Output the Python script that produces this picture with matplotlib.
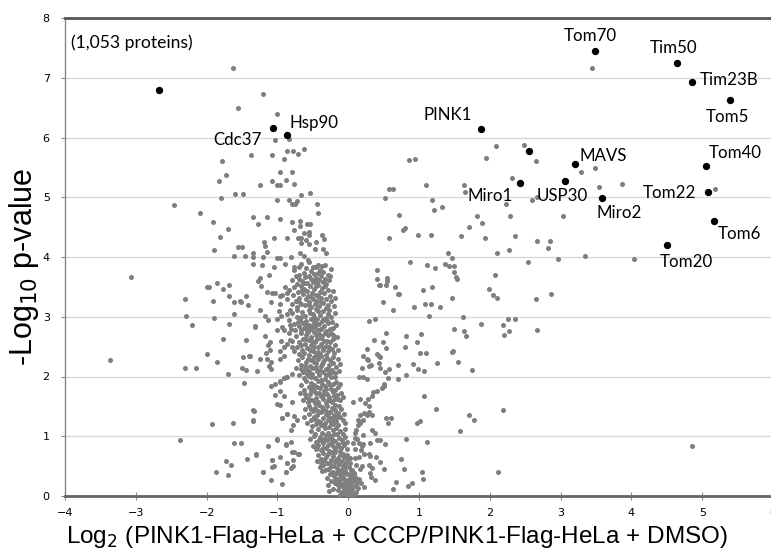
import matplotlib
matplotlib.use("Agg")
import matplotlib.pyplot as plt

# grey proteins, upper part of plot
upper_x = [-1.63, -1.20, -1.56, -1.00, -1.03, -0.84, -1.37, -1.07, -0.87, -0.78, -0.71, -0.62, -1.78, -0.91,
           -1.72, -0.96, -0.79, -1.82, -1.07, -0.88, -0.76, -1.25, -1.00, -0.97, -1.60, -1.49, -1.80, -0.66,
           -0.54, -1.00, -0.83, -0.72, -0.79, -0.75, -0.44, -2.46, -2.09, -0.42, -1.35, -1.15, -0.97, -1.91,
           -1.27, -0.80, -0.68, -0.58, -0.54, -0.68, -0.76, -1.70, -1.81, -1.05, -0.87, -0.71, -0.67, -0.56,
           -0.37, -0.34, -0.66, -0.56, -1.19, -1.17, -1.56, -1.50, -1.90, -1.34, -1.61, -1.46, -1.34, -1.20,
           -1.01, -0.96, -0.81, -0.68, -0.63, -0.47, -0.35, -0.31, -1.34, -1.22, -0.89, -1.05, -0.77, -0.70,
           -0.50, -0.45, -0.37, -0.33, -0.26, -3.07, -1.15, -1.12, -1.25, -1.28, -0.55, -0.62, -0.60, -0.45]
upper_y = [7.16, 6.72, 6.50, 6.39, 5.95, 5.97, 5.71, 5.70, 5.77, 5.78, 5.72, 5.80, 5.61, 5.64,
           5.37, 5.42, 5.42, 5.28, 5.28, 5.29, 5.22, 5.20, 5.20, 5.21, 5.05, 5.05, 4.98, 5.04,
           5.07, 4.95, 4.95, 4.94, 4.89, 4.88, 4.89, 4.87, 4.73, 4.74, 4.67, 4.67, 4.64, 4.59,
           4.56, 4.59, 4.60, 4.56, 4.55, 4.52, 4.45, 4.47, 4.33, 4.31, 4.31, 4.31, 4.32, 4.36,
           4.36, 4.30, 4.24, 4.22, 4.25, 4.18, 4.17, 4.16, 4.12, 4.06, 4.01, 4.02, 4.00, 4.00,
           3.98, 3.98, 4.00, 4.06, 4.01, 4.13, 4.13, 4.06, 3.88, 3.86, 3.89, 3.83, 3.83, 3.83,
           3.83, 3.84, 3.85, 3.86, 3.68, 3.67, 4.09, 3.70, 3.65, 3.59, 4.42, 4.40, 4.28, 4.25]

# grey proteins, left side below ~3.7
left_x = [-3.36, -2.38, -2.30, -2.29, -2.20, -2.31, -2.15, -1.99, -1.96, -1.85, -1.77, -1.69, -1.91, -1.90,
          -1.69, -1.99, -1.86, -1.77, -1.70, -1.68, -1.62, -1.62, -1.53, -1.52, -1.45, -1.42, -1.45, -1.39,
          -1.50, -1.45, -1.47, -1.31, -1.29, -1.34, -1.34, -1.92, -1.63, -1.61, -1.51, -1.30, -1.73, -1.65,
          -1.43, -1.87, -1.70, -1.20, -1.09, -1.05, -1.08, -1.01, -0.97, -0.88, -0.88, -0.86, -0.79, -0.78,
          -0.71, -0.81, -0.81, -0.90, -0.87, -0.80, -0.76, -0.78, -0.73, -1.03, -0.97, -1.01, -0.97, -0.93,
          -0.80, -0.88, -0.96, -1.03, -1.09, -1.09, -1.15, -1.24,
          -1.14, -1.08, -1.09, -1.03, -0.97, -0.94, -0.96, -0.89, -0.86, -1.17, -1.13, -0.98, -0.95, -1.00,
          -0.87, -0.82, -1.32, -1.18, -1.10, -1.13, -1.01, -0.94, -0.90, -0.84, -0.82, -1.16, -1.10, -0.95,
          -0.91, -0.96, -0.87, -0.82, -0.80, -1.12, -1.09, -0.96, -0.91, -0.96, -0.91, -0.87, -1.33, -1.35,
          -0.94, -0.87, -0.81, -1.01, -0.88, -1.13, -1.30, -1.07, -0.77, -0.70, -0.86, -0.78, -0.88, -1.20,
          -1.08, -0.94, -1.40, -1.48, -1.23, -1.24]
left_y = [2.28, 0.94, 3.29, 3.02, 2.87, 2.15, 2.15, 3.49, 3.50, 3.56, 3.46, 3.53, 3.26, 2.98,
          2.88, 2.38, 2.24, 2.63, 2.05, 3.35, 3.24, 3.05, 3.27, 3.24, 3.34, 3.19, 2.61, 2.35,
          2.15, 2.11, 1.89, 2.85, 2.10, 1.44, 1.26, 1.21, 1.23, 0.88, 0.89, 0.69, 0.59, 0.52,
          0.62, 0.40, 0.35, 0.41, 0.27, 0.50, 0.61, 0.94, 0.66, 0.85, 0.41, 0.56, 0.73, 0.61,
          0.70, 0.47, 0.91, 1.67, 1.38, 1.57, 1.34, 1.19, 1.28, 1.69, 1.76, 1.54, 1.52, 1.31,
          2.04, 1.99, 1.92, 1.88, 1.84, 2.12, 2.29, 2.29,
          3.42, 3.39, 3.24, 3.39, 3.34, 3.36, 3.22, 3.49, 3.40, 3.02, 2.95, 3.09, 3.01, 2.97,
          3.04, 3.11, 2.83, 2.68, 2.58, 2.52, 2.77, 2.83, 2.78, 2.72, 2.86, 2.40, 2.44, 2.60,
          2.49, 2.42, 2.54, 2.61, 2.50, 2.18, 2.24, 2.30, 2.35, 1.91, 1.98, 2.00, 1.42, 1.27,
          1.30, 1.38, 1.10, 0.95, 0.87, 0.83, 0.70, 0.61, 0.73, 0.70, 0.56, 0.50, 0.41, 0.41,
          0.48, 0.20, 2.35, 2.32, 3.52, 3.12]

# grey proteins, dense central cloud
core_x = [-0.80, -0.76, -0.72, -0.70, -0.67, -0.65, -0.63, -0.61, -0.59, -0.58, -0.56, -0.55, -0.53, -0.52,
          -0.50, -0.49, -0.47, -0.46, -0.44, -0.43, -0.41, -0.40, -0.38, -0.36, -0.35, -0.33, -0.31, -0.29,
          -0.27, -0.57, -0.69, -0.74, -0.62, -0.48, -0.42, -0.25,
          -0.86, -0.83, -0.80, -0.78, -0.76, -0.74, -0.72, -0.71, -0.69, -0.67, -0.66, -0.64, -0.63, -0.61,
          -0.60, -0.58, -0.57, -0.55, -0.54, -0.52, -0.51, -0.50, -0.48, -0.47, -0.45, -0.44, -0.42, -0.41,
          -0.40, -0.38, -0.37, -0.35, -0.34, -0.32, -0.31, -0.29, -0.28, -0.26, -0.24, -0.22, -0.20, -0.19,
          -0.65, -0.56, -0.46, -0.39, -0.53, -0.43, -0.70, -0.33,
          -0.84, -0.81, -0.79, -0.77, -0.75, -0.73, -0.72, -0.70, -0.68, -0.67, -0.65, -0.64, -0.62, -0.61,
          -0.59, -0.58, -0.56, -0.55, -0.53, -0.52, -0.50, -0.49, -0.47, -0.46, -0.44, -0.43, -0.41, -0.40,
          -0.38, -0.37, -0.35, -0.34, -0.32, -0.31, -0.29, -0.28, -0.26, -0.25, -0.23, -0.21, -0.19, -0.17,
          -0.60, -0.48, -0.36, -0.54, -0.42, -0.30, -0.66, -0.57, -0.45, -0.39, -0.27, -0.71, -0.51,
          -0.79, -0.77, -0.74, -0.72, -0.70, -0.69, -0.67, -0.65, -0.64, -0.62, -0.61, -0.59, -0.58, -0.56,
          -0.55, -0.53, -0.52, -0.50, -0.49, -0.47, -0.46, -0.44, -0.43, -0.41, -0.40, -0.38, -0.37, -0.35,
          -0.34, -0.32, -0.31, -0.29, -0.28, -0.26, -0.25, -0.23, -0.22, -0.20, -0.18, -0.16, -0.14, -0.60,
          -0.48, -0.39, -0.30, -0.54, -0.45, -0.36, -0.66, -0.57, -0.27, -0.42, -0.51, -0.33, -0.21,
          -0.74, -0.71, -0.69, -0.67, -0.65, -0.64, -0.62, -0.60, -0.59, -0.57, -0.56, -0.54, -0.53, -0.51,
          -0.50, -0.48, -0.47, -0.45, -0.44, -0.42, -0.41, -0.39, -0.38, -0.36, -0.35, -0.33, -0.32, -0.30,
          -0.29, -0.27, -0.26, -0.24, -0.23, -0.21, -0.19, -0.17, -0.15, -0.13, -0.11, -0.55, -0.46, -0.37,
          -0.28, -0.61, -0.49, -0.40, -0.31, -0.22, -0.52, -0.43, -0.34, -0.25, -0.58, -0.18, -0.66,
          -0.68, -0.66, -0.64, -0.62, -0.60, -0.59, -0.57, -0.55, -0.54, -0.52, -0.51, -0.49, -0.48, -0.46,
          -0.45, -0.43, -0.42, -0.40, -0.39, -0.37, -0.36, -0.34, -0.33, -0.31, -0.30, -0.28, -0.27, -0.25,
          -0.24, -0.22, -0.21, -0.19, -0.18, -0.16, -0.14, -0.12, -0.10, -0.08, -0.53, -0.44, -0.35, -0.26,
          -0.17, -0.47, -0.38, -0.29, -0.20, -0.56, -0.41, -0.32, -0.23, -0.15, -0.61, -0.50, -0.11,
          -0.63, -0.61, -0.58, -0.56, -0.55, -0.53, -0.51, -0.50, -0.48, -0.47, -0.45, -0.44, -0.42, -0.41,
          -0.39, -0.38, -0.36, -0.35, -0.33, -0.32, -0.30, -0.29, -0.27, -0.26, -0.24, -0.23, -0.21, -0.20,
          -0.18, -0.17, -0.15, -0.14, -0.12, -0.10, -0.08, -0.06, -0.04, -0.46, -0.37, -0.28, -0.19, -0.40,
          -0.31, -0.22, -0.13, -0.52, -0.34, -0.25, -0.16, -0.43,
          -0.54, -0.52, -0.50, -0.48, -0.46, -0.45, -0.43, -0.42, -0.40, -0.39, -0.37, -0.36, -0.34, -0.33,
          -0.31, -0.30, -0.28, -0.27, -0.25, -0.24, -0.22, -0.21, -0.19, -0.18, -0.16, -0.15, -0.13, -0.12,
          -0.10, -0.09, -0.07, -0.06, -0.04, -0.02, -0.01, -0.41, -0.32, -0.23, -0.14, -0.35, -0.26, -0.17,
          -0.08, -0.29, -0.20, -0.11, -0.47, -0.38, -0.05, -0.44,
          -0.44, -0.42, -0.40, -0.38, -0.36, -0.35, -0.33, -0.31, -0.30, -0.28, -0.27, -0.25, -0.24, -0.22,
          -0.21, -0.19, -0.18, -0.16, -0.15, -0.13, -0.12, -0.10, -0.09, -0.07, -0.06, -0.04, -0.03, -0.01,
          0.01, 0.03, 0.04, -0.34, -0.26, -0.17, -0.08, -0.29, -0.20, -0.11, -0.02, -0.37, -0.23, -0.14,
          -0.05, 0.02, -0.39,
          -0.30, -0.28, -0.26, -0.24, -0.22, -0.20, -0.19, -0.17, -0.16, -0.15, -0.13, -0.12, -0.11, -0.10,
          -0.09, -0.08, -0.07, -0.06, -0.05, -0.04, -0.03, -0.02, -0.01, 0.00, 0.00, 0.01, 0.02, 0.03,
          0.04, 0.05, 0.06, 0.07, 0.08, 0.09, 0.10, 0.12, -0.01, 0.01, -0.03, 0.02, -0.02, 0.04,
          -0.06, 0.06, -0.14, -0.18, 0.03, -0.08, 0.11, -0.23, -0.27, 0.14, 0.08, -0.12, 0.15]
core_y = [3.62, 3.78, 3.55, 3.70, 3.88, 3.60, 3.74, 3.66, 3.81, 3.57, 3.69, 3.92, 3.63, 3.76,
          3.58, 3.71, 3.84, 3.65, 3.56, 3.73, 3.62, 3.79, 3.68, 3.58, 3.75, 3.64, 3.55, 3.70,
          3.61, 3.95, 3.64, 3.69, 3.57, 3.62, 3.86, 3.80,
          3.30, 3.44, 3.21, 3.36, 3.50, 3.27, 3.17, 3.41, 3.31, 3.52, 3.22, 3.38, 3.47, 3.19,
          3.29, 3.43, 3.35, 3.24, 3.51, 3.16, 3.40, 3.30, 3.46, 3.21, 3.37, 3.27, 3.53, 3.18,
          3.42, 3.32, 3.48, 3.23, 3.39, 3.15, 3.29, 3.45, 3.20, 3.35, 3.26, 3.43, 3.18, 3.31,
          3.45, 3.19, 3.51, 3.25, 3.33, 3.34, 3.24, 3.52,
          2.95, 2.80, 3.06, 2.88, 2.77, 2.99, 3.12, 2.85, 2.94, 2.78, 3.08, 2.90, 2.81, 3.02,
          2.93, 2.76, 3.11, 2.86, 2.97, 2.79, 3.05, 2.91, 2.83, 3.13, 2.96, 2.77, 2.88, 3.03,
          2.80, 2.93, 3.09, 2.85, 2.98, 2.76, 3.04, 2.89, 2.79, 3.00, 2.92, 2.82, 3.07, 2.87,
          2.86, 3.00, 2.97, 3.07, 3.10, 2.93, 2.99, 2.81, 2.88, 2.79, 3.12, 2.92, 2.84,
          2.60, 2.42, 2.68, 2.50, 2.37, 2.58, 2.72, 2.45, 2.63, 2.39, 2.54, 2.70, 2.47, 2.61,
          2.36, 2.52, 2.66, 2.43, 2.74, 2.57, 2.40, 2.63, 2.49, 2.71, 2.38, 2.55, 2.67, 2.44,
          2.59, 2.36, 2.51, 2.69, 2.42, 2.57, 2.73, 2.46, 2.62, 2.39, 2.53, 2.66, 2.45, 2.62,
          2.50, 2.64, 2.60, 2.44, 2.69, 2.48, 2.53, 2.74, 2.49, 2.41, 2.60, 2.72, 2.70,
          2.15, 2.28, 2.02, 2.20, 2.33, 2.08, 1.97, 2.24, 2.12, 2.30, 2.01, 2.18, 2.27, 2.05,
          2.14, 2.32, 1.98, 2.22, 2.10, 2.29, 2.03, 2.17, 2.34, 2.07, 2.25, 1.96, 2.13, 2.31,
          2.04, 2.19, 2.27, 2.00, 2.11, 2.23, 2.06, 2.16, 2.29, 2.09, 2.21, 2.09, 2.16, 2.21,
          2.12, 2.17, 2.24, 2.11, 2.02, 2.32, 1.99, 2.35, 2.28, 2.08, 2.05, 1.99, 2.12,
          1.72, 1.85, 1.60, 1.78, 1.92, 1.66, 1.57, 1.82, 1.70, 1.89, 1.61, 1.76, 1.86, 1.64,
          1.73, 1.93, 1.58, 1.80, 1.68, 1.88, 1.62, 1.75, 1.84, 1.56, 1.71, 1.90, 1.65, 1.79,
          1.59, 1.74, 1.87, 1.63, 1.77, 1.69, 1.83, 1.60, 1.73, 1.66, 1.77, 1.82, 1.69, 1.85,
          1.91, 1.55, 1.94, 1.61, 1.68, 1.63, 1.72, 1.79, 1.57, 1.62, 1.70, 1.83, 1.88,
          1.33, 1.45, 1.22, 1.38, 1.51, 1.28, 1.17, 1.42, 1.32, 1.48, 1.20, 1.36, 1.26, 1.53,
          1.40, 1.18, 1.30, 1.46, 1.23, 1.37, 1.50, 1.27, 1.16, 1.41, 1.31, 1.47, 1.21, 1.35,
          1.44, 1.25, 1.39, 1.19, 1.32, 1.46, 1.28, 1.37, 1.22, 1.27, 1.49, 1.34, 1.52, 1.24,
          1.43, 1.29, 1.50, 1.45, 1.18, 1.22, 1.33, 1.43,
          0.95, 1.08, 0.84, 1.00, 0.78, 0.91, 1.12, 0.86, 0.99, 0.77, 1.05, 0.89, 0.96, 1.13,
          0.81, 0.93, 1.06, 0.76, 0.88, 1.01, 0.83, 1.10, 0.92, 0.79, 1.03, 0.87, 0.97, 1.09,
          0.80, 0.94, 1.04, 0.85, 0.98, 0.90, 0.78, 0.94, 1.02, 0.95, 0.84, 0.80, 0.98, 1.13,
          0.88, 0.86, 1.04, 0.76, 1.04, 0.93, 1.12, 0.82,
          0.58, 0.68, 0.49, 0.62, 0.72, 0.52, 0.43, 0.65, 0.55, 0.70, 0.46, 0.60, 0.50, 0.67,
          0.41, 0.57, 0.73, 0.47, 0.63, 0.53, 0.69, 0.44, 0.59, 0.51, 0.66, 0.42, 0.56, 0.62,
          0.48, 0.55, 0.43, 0.60, 0.54, 0.61, 0.71, 0.45, 0.50, 0.57, 0.68, 0.42, 0.74, 0.40,
          0.49, 0.64, 0.55,
          0.30, 0.18, 0.36, 0.25, 0.12, 0.33, 0.21, 0.38, 0.28, 0.10, 0.24, 0.35, 0.16, 0.29,
          0.07, 0.20, 0.32, 0.13, 0.26, 0.05, 0.18, 0.37, 0.09, 0.22, 0.02, 0.14, 0.30, 0.06,
          0.19, 0.34, 0.11, 0.25, 0.04, 0.17, 0.31, 0.22, 0.04, 0.08, 0.11, 0.01, 0.03, 0.09,
          0.06, 0.03, 0.19, 0.27, 0.27, 0.38, 0.07, 0.39, 0.08, 0.13, 0.36, 0.01, 0.28]

# grey proteins, right side
right_x = [3.44, 2.09, 1.95, 2.48, 2.65, 3.29, 3.49, 2.32, 3.54, 3.87, 3.03, 2.60, 2.66, 2.23, 5.18,
           4.03, 3.34, 2.97, 2.54, 2.29, 2.08, 1.82, 1.89, 1.70, 1.60, 1.93, 2.10, 2.27, 2.36, 2.67,
           2.85, 2.82, 1.10, 1.19, 1.21, 1.33, 1.63, 1.65, 0.57, 0.63, 0.52, 0.86, 0.94, 0.72, 0.78,
           0.80, 0.58, 0.99, 1.17, 0.87, 1.12, 1.23, 1.37, 1.42, 1.49, 1.41, 1.47, 1.52, 1.49, 0.55,
           0.40,
           4.85, 2.12, 1.58, 0.45, 0.50, 0.74, 0.79, 0.67, 0.63, 0.85, 0.90, 1.04, 1.06, 0.82, 1.12,
           0.45, 0.52, 0.53, 0.61, 0.56, 0.97, 1.01, 1.07, 1.24, 1.70, 1.77, 2.19, 0.50, 0.51, 0.48,
           0.56, 0.71, 0.82, 0.45, 0.52, 0.57, 0.92, 0.99, 1.07, 1.26, 1.55, 1.75, 0.45, 0.71, 0.54,
           0.49, 0.80, 0.97, 1.02, 1.10, 1.46, 1.48, 0.53, 0.81, 1.03, 1.50, 1.63, 1.67, 1.87, 2.18,
           2.20, 2.27, 2.26, 2.35, 2.67, 1.62, 0.49, 0.63, 0.93, 1.09, 1.17, 1.30, 1.14, 1.46, 0.45,
           0.54, 0.55, 0.66, 0.71, 0.72, 1.06, 1.19, 1.99, 2.05, 2.10, 2.65, 2.86, 1.53,
           0.41, 0.44, 0.29, 0.38, 0.37, 0.26, 0.21, 0.27, 0.28, 0.41, 0.43, 0.30, 0.32, 0.44, 0.20,
           0.15, 0.21, 0.26, 0.35, 0.33, 0.40, 0.28, 0.07, 0.16, 0.24, 0.30, 0.22, 0.30, 0.33, 0.16,
           0.26, 0.14, 0.21, 0.14, 0.17, 0.11, 0.10, 0.33, 0.38, 0.21, 0.09, 0.12, 0.07, 0.15, 0.19,
           0.21, 0.41, 0.31, 0.10, 0.18, 0.22, 0.29, 0.31, 0.09, 0.15, 0.39, 0.30, 0.33, 0.11, 0.16,
           0.19, 0.05, 0.08, 0.31, 0.32, 0.38, 0.02, 0.05, 0.10, 0.00, 0.18, 0.22]
right_y = [7.16, 5.85, 5.66, 5.87, 5.61, 5.43, 5.49, 5.33, 5.17, 5.23, 4.68, 4.95, 5.01, 4.89, 5.13,
           3.97, 4.01, 3.96, 3.91, 4.68, 3.70, 4.68, 4.57, 4.51, 4.35, 4.31, 4.07, 4.12, 4.35, 4.27,
           4.27, 4.15, 5.20, 4.95, 4.79, 4.84, 5.20, 5.09, 5.14, 5.13, 4.99, 5.62, 5.64, 4.70, 4.45,
           4.48, 4.31, 4.37, 4.37, 3.91, 3.87, 3.81, 3.88, 3.85, 3.85, 4.06, 3.98, 3.67, 3.75, 3.65,
           3.79,
           0.83, 0.41, 1.09, 0.57, 0.45, 0.62, 0.45, 0.23, 0.11, 0.16, 0.22, 0.40, 0.28, 0.96, 0.91,
           0.94, 0.87, 1.30, 1.31, 1.23, 1.22, 1.26, 1.67, 1.46, 1.35, 1.28, 1.44, 1.87, 1.84, 1.80,
           1.98, 1.96, 2.02, 2.14, 2.08, 2.13, 2.21, 2.13, 2.10, 2.22, 2.25, 2.11, 2.33, 2.20, 2.48,
           2.57, 2.49, 2.57, 2.40, 2.40, 2.41, 2.42, 2.73, 2.67, 2.71, 2.80, 2.76, 2.68, 2.88, 2.86,
           2.69, 2.76, 2.97, 2.96, 2.78, 3.00, 3.24, 3.11, 3.16, 3.21, 3.22, 3.17, 3.02, 3.32, 3.53,
           3.53, 3.60, 3.50, 3.38, 3.38, 3.44, 3.50, 3.47, 3.36, 3.32, 3.29, 3.38, 3.63,
           3.64, 3.53, 2.93, 2.97, 2.61, 2.46, 2.34, 2.29, 2.28, 2.38, 2.34, 2.17, 2.19, 2.22, 2.15,
           2.00, 1.99, 1.96, 1.74, 1.68, 1.75, 1.63, 1.58, 1.63, 1.55, 1.51, 1.39, 1.41, 1.36, 1.36,
           1.36, 1.27, 1.27, 1.19, 1.22, 1.10, 1.06, 1.10, 1.06, 1.02, 0.97, 0.95, 0.88, 0.88, 0.84,
           0.87, 0.93, 0.89, 0.78, 0.77, 0.71, 0.71, 0.67, 0.63, 0.66, 0.65, 0.52, 0.47, 0.52, 0.46,
           0.50, 0.44, 0.39, 0.39, 0.32, 0.27, 0.37, 0.32, 0.28, 0.27, 0.21, 0.15]

# highlighted proteins (black)
hit_x = [-2.67, -1.06, -0.86, 3.48, 4.64, 4.86, 5.39, 1.87, 2.56, 3.20, 2.43, 3.06, 3.58, 5.06, 5.08, 5.16, 4.50]
hit_y = [6.79, 6.16, 6.04, 7.45, 7.25, 6.93, 6.62, 6.15, 5.78, 5.56, 5.24, 5.28, 4.99, 5.52, 5.09, 4.61, 4.20]

# label text and where it sits (x, y, horizontal alignment)
labels = ["Cdc37", "Hsp90", "Tom70", "Tim50", "Tim23B", "Tom5", "PINK1", "MAVS", "Miro1",
          "USP30", "Miro2", "Tom40", "Tom22", "Tom6", "Tom20"]
label_x = [-1.57, -0.49, 3.42, 4.59, 4.96, 5.35, 1.41, 3.27, 2.00, 3.03, 3.83, 5.47, 4.54, 5.52, 4.77]
label_y = [5.96, 6.24, 7.70, 7.49, 6.97, 6.35, 6.38, 5.69, 5.02, 5.02, 4.73, 5.74, 5.07, 4.38, 3.92]
label_ha = ["center", "center", "center", "center", "left", "center", "center", "left", "center",
            "center", "center", "center", "center", "center", "center"]

grey_x = upper_x + left_x + core_x + right_x
grey_y = upper_y + left_y + core_y + right_y

fig = plt.figure(figsize=(7.71, 5.5), dpi=100)
ax = fig.add_axes([65 / 771, 54 / 550, 708 / 771, 478 / 550])

ax.scatter(grey_x, grey_y, s=13, color="#7f7f7f", linewidths=0, zorder=3)
ax.scatter(hit_x, hit_y, s=28, color="black", linewidths=0, zorder=4)

for t, x, y, ha in zip(labels, label_x, label_y, label_ha):
    ax.text(x, y, t, ha=ha, va="center", fontsize=12.2, family="Lato", zorder=5)
ax.text(-3.91, 7.59, "(1,053 proteins)", ha="left", va="center", fontsize=12.6, family="Lato")

ax.set_xlim(-4, 6)
ax.set_ylim(0, 8)
ax.set_xticks(range(-4, 7))
ax.set_yticks(range(0, 9))
ax.grid(axis="y", color="#d9d9d9", linewidth=1, zorder=0)
ax.set_axisbelow(True)

ax.spines["left"].set_color("#888888")
ax.spines["left"].set_linewidth(1)
ax.spines["bottom"].set_color("#666666")
ax.spines["bottom"].set_linewidth(2)
ax.spines["top"].set_color("#555555")
ax.spines["top"].set_linewidth(2)
ax.spines["right"].set_visible(False)

ax.tick_params(axis="y", direction="out", length=3, color="#888888", labelsize=8, pad=8)
ax.tick_params(axis="x", direction="inout", length=6, color="#888888", labelsize=8, pad=6)
for lab in ax.get_xticklabels() + ax.get_yticklabels():
    lab.set_family("DejaVu Sans")

ax.set_xlabel(r"Log$_2$ (PINK1-Flag-HeLa + CCCP/PINK1-Flag-HeLa + DMSO)",
              fontsize=17.5, family="Liberation Sans")
ax.set_ylabel(r"-Log$_{10}$ p-value", fontsize=22, family="Liberation Sans")
ax.xaxis.set_label_coords(0.469, -0.058)
ax.yaxis.set_label_coords(-0.034, 0.48)

fig.savefig("out.png", dpi=100)
